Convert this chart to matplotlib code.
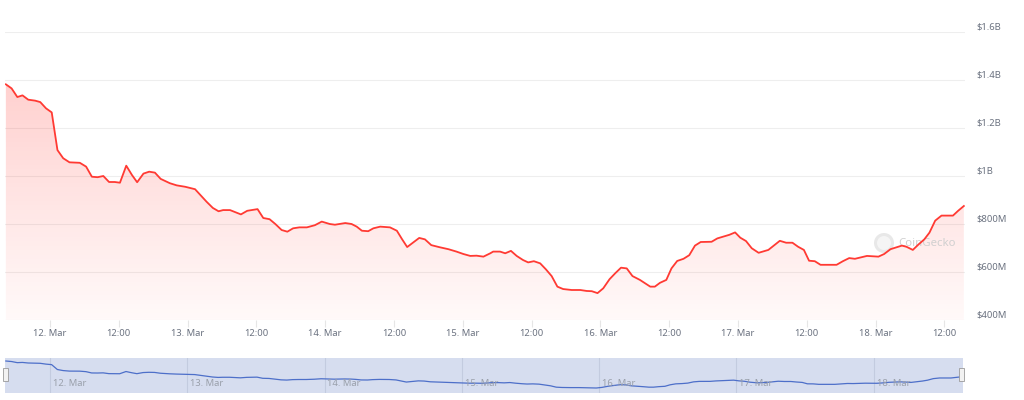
import numpy as np
import matplotlib
matplotlib.use("Agg")
import matplotlib.pyplot as plt
from matplotlib.patches import Circle, Rectangle

# hours after 12 Mar 00:00, trading volume in millions of USD
hours = [
    -7.7, -6.7, -5.7, -4.8, -3.8, -2.6, -1.7, -0.7, 0.3, 1.3, 2.3, 3.4, 5.2, 6.3,
    7.3, 8.3, 9.3, 10.3, 11.3, 12.2, 13.3, 14.3, 15.2, 16.3, 17.3, 18.3, 19.3, 20.9,
    22.1, 23.6, 25.3, 26.5, 27.3, 28.4, 29.4, 30.2, 31.4, 33.3, 34.4, 36.2, 37.2,
    38.3, 39.3, 40.4, 41.4, 42.4, 43.5, 44.8, 46.2, 47.4, 48.8,
    49.7, 51.5, 52.6, 53.5, 54.4, 55.5, 56.4, 57.6, 59.3, 60.5, 61.4, 62.3, 63.4,
    64.4, 65.4, 66.5, 68.0, 69.5, 70.9, 72.1, 73.3, 74.4, 75.6, 76.8,
    77.3, 78.5, 79.4, 80.4, 81.4, 82.5, 83.4, 84.4, 85.5, 86.5, 87.5, 88.5, 89.5,
    91.0, 92.5, 93.6, 94.5, 95.5, 96.5, 97.6, 98.6, 99.6, 100.6, 101.6, 102.9,
    103.8, 104.7, 105.5, 106.4, 107.5, 108.4, 109.4, 110.5, 111.5, 112.5, 113.5,
    115.4, 116.4, 117.4, 118.5, 119.5, 120.4, 121.4, 122.4, 123.6, 125.3, 126.3,
    127.3, 128.4, 129.5, 130.5, 131.5,
    132.4, 133.4, 134.4, 137.2, 138.3, 139.4, 140.4, 142.5, 144.5, 145.5, 146.6,
    148.6, 149.4, 150.5, 151.5, 152.5, 153.4, 154.4, 155.5, 157.5, 158.4, 159.4,
]
volume_musd = [
    1382, 1365, 1329, 1336, 1318, 1314, 1308, 1282, 1265, 1108, 1074, 1057, 1055, 1039,
    997, 995, 1000, 975, 975, 972, 1043, 1004, 974, 1010, 1018, 1014, 988, 970,
    961, 955, 945, 914, 893, 867, 853, 858, 858, 840, 855, 862, 825,
    820, 800, 775, 768, 782, 786, 786, 795, 810, 800,
    797, 804, 800, 789, 772, 770, 782, 789, 786, 772, 737, 704, 724,
    742, 736, 712, 703, 695, 685, 675, 667, 668, 664, 678,
    685, 685, 678, 688, 667, 650, 640, 645, 636, 611, 583, 539, 529,
    525, 525, 521, 520, 512, 532, 570, 595, 618, 615, 583, 567,
    553, 539, 539, 555, 567, 615, 646, 655, 670, 710, 725,
    726, 740, 747, 755, 765, 743, 729, 699, 680, 692, 711,
    730, 722, 722, 705, 692,
    647, 645, 630, 630, 645, 658, 655, 667, 664, 675, 695,
    710, 705, 692, 715, 736, 764, 814, 835, 835, 855, 875,
]

y_ticks = [400, 600, 800, 1000, 1200, 1400, 1600]
y_labels = ["$400M", "$600M", "$800M", "$1B", "$1.2B", "$1.4B", "$1.6B"]
x_ticks = list(range(0, 157, 12))
x_labels = ["12. Mar", "12:00", "13. Mar", "12:00", "14. Mar", "12:00", "15. Mar",
            "12:00", "16. Mar", "12:00", "17. Mar", "12:00", "18. Mar", "12:00"]
nav_days = list(range(0, 145, 24))
nav_labels = ["12. Mar", "13. Mar", "14. Mar", "15. Mar", "16. Mar", "17. Mar", "18. Mar"]

plt.rcParams['font.family'] = ['Noto Sans', 'DejaVu Sans']
label_col = '#6b7280'

fig = plt.figure(figsize=(10.24, 4), dpi=100)
ax = fig.add_axes([5/1024, 80/400, 960/1024, 288/400])
x0, x1 = -7.85, 159.6

# red area with vertical gradient
fill = ax.fill_between(hours, volume_musd, 400, color='none', lw=0)
grad = np.zeros((256, 1, 4))
grad[..., 0] = 1.0
grad[..., 1] = 0.23
grad[..., 2] = 0.2
grad[:, 0, 3] = np.linspace(0.28, 0.03, 256)
img = ax.imshow(grad, extent=[x0, x1, 400, 1600], aspect='auto', origin='upper', zorder=1)
img.set_clip_path(fill.get_paths()[0], transform=ax.transData)

ax.plot(hours, volume_musd, color='#ff3a33', lw=1.3, zorder=3)

ax.set_xlim(x0, x1)
ax.set_ylim(400, 1600)
for s in ax.spines.values():
    s.set_visible(False)
ax.set_axisbelow(True)
ax.yaxis.grid(True, color='#eeeeee', lw=0.8)

ax.yaxis.tick_right()
ax.set_yticks(y_ticks, y_labels)
ax.tick_params(axis='y', length=0, pad=8, labelsize=6.8, labelcolor=label_col)
for lab in ax.get_yticklabels():
    lab.set_va('bottom')
ax.set_xticks(x_ticks, x_labels)
ax.tick_params(axis='x', length=5, color='#e6e6e6', pad=1.5, labelsize=6.8, labelcolor=label_col)

# watermark
ax.add_patch(Circle((8.84, 1.57), 0.1, transform=fig.dpi_scale_trans,
                    facecolor='#e8e8e8', edgecolor='none', zorder=2))
ax.add_patch(Circle((8.84, 1.57), 0.07, transform=fig.dpi_scale_trans,
                    facecolor='#f5f5f5', edgecolor='none', zorder=2))
ax.text(898/1024, 157/400, 'CoinGecko', transform=fig.transFigure, fontsize=8.2,
        color='#d0d0d0', va='center', ha='left', zorder=2)

# navigator
nav = fig.add_axes([5/1024, 7/400, 958/1024, 35/400])
nav.set_facecolor('#d6ddef')
for s in nav.spines.values():
    s.set_visible(False)
nav.set_xticks([])
nav.set_yticks([])
nav.plot(hours, volume_musd, color='#4d6fc9', lw=0.9)
nav.set_xlim(x0, x1)
nav.set_ylim(351, 1479)
for d, lab in zip(nav_days, nav_labels):
    nav.axvline(d, color='#c3cbdf', lw=0.8, zorder=0)
    nav.text(d + 0.5, 0.26, lab, transform=nav.get_xaxis_transform(), fontsize=6.8,
             color='#9aa0ab', va='center', ha='left')

for hx in (3, 959):
    fig.add_artist(Rectangle((hx/100, 19/100), 5/100, 13/100, transform=fig.dpi_scale_trans,
                             facecolor='#f2f2f2', edgecolor='#9a9a9a', lw=0.6))

fig.savefig('out.png', dpi=100)
